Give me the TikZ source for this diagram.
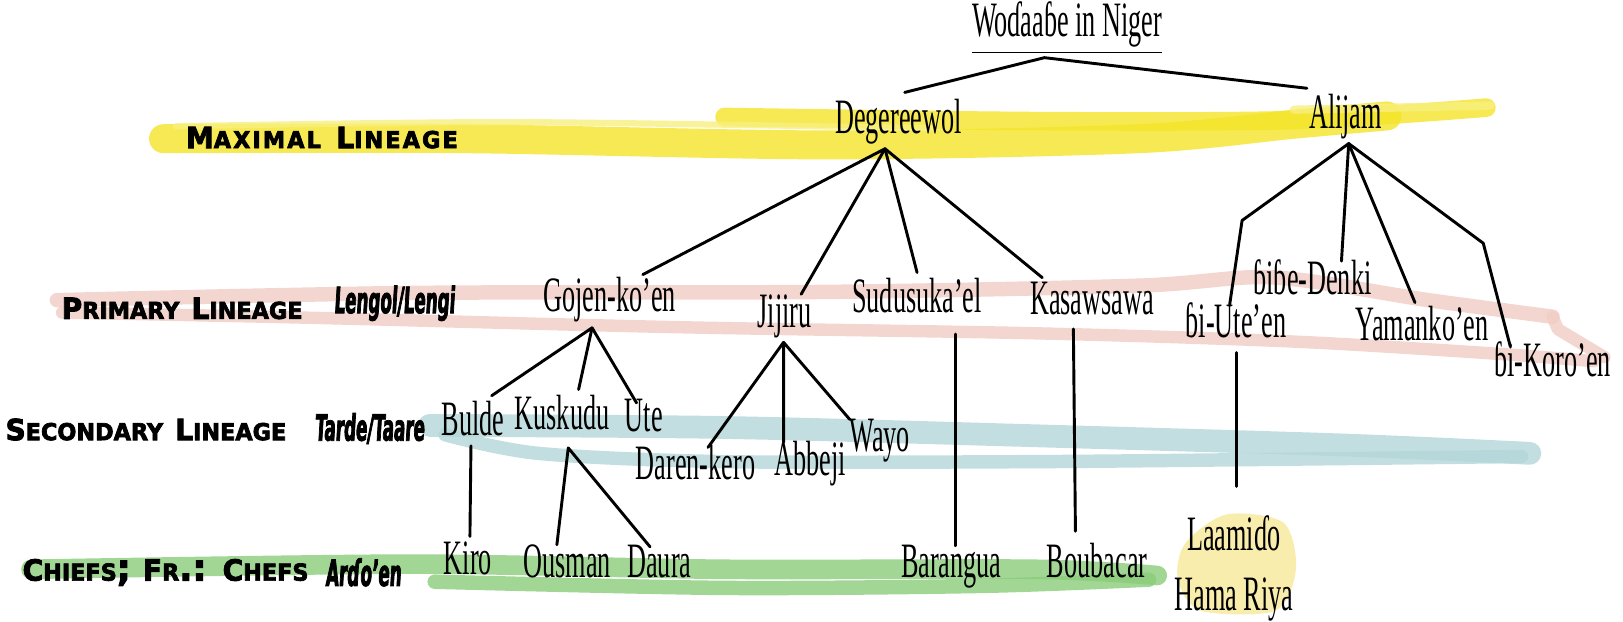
\documentclass[tikz,border=0pt]{standalone}
\usepackage{fontspec}
\newfontfamily\namefont[FakeStretch=0.53]{Liberation Serif}
\newfontfamily\rowfont[FakeStretch=0.96,FakeBold=3]{DejaVu Sans}
\newfontfamily\termfont[FakeStretch=0.46,FakeSlant=0.06,FakeBold=2]{DejaVu Sans}
\usetikzlibrary{calc}
\newcommand{\lincaps}[2]{{\fontsize{8}{9}\selectfont #1}{\fontsize{6.4}{7}\selectfont #2}}
\definecolor{maxyellow}{RGB}{244,228,40}
\definecolor{primpink}{RGB}{240,204,196}
\definecolor{secblue}{RGB}{180,214,216}
\definecolor{chiefgreen}{RGB}{138,204,122}
\definecolor{paleyellow}{RGB}{246,232,152}

\begin{document}
\begin{tikzpicture}[
        x=0.1mm, y=-0.1mm,
        clan/.style={font={\namefont\fontsize{13.6}{16.4}\selectfont},inner sep=1pt,text height=2.5mm,text depth=0.8mm},
        rowname/.style={font={\rowfont\bfseries},inner sep=0pt},
        term/.style={font={\termfont\bfseries\fontsize{10}{11}\selectfont},inner sep=0pt},
        branch/.style={line width=0.8pt,line cap=round,line join=round},
        brush/.style={line cap=round,line join=round,opacity=0.8},
        ]
        \useasboundingbox (0,0) rectangle (1568,600);

        % brush strokes behind the rows
        \draw[brush,maxyellow,line width=2.8mm] plot[smooth] coordinates {(158,134) (450,134) (800,140) (1100,134) (1250,120) (1340,112)};
        \draw[brush,maxyellow,line width=1.8mm] plot[smooth] coordinates {(700,113) (1000,117) (1250,116) (1436,104)};
        \draw[brush,maxyellow!60!white,line width=0.6mm] plot[smooth] coordinates {(170,122) (500,118) (900,124)};
        \draw[brush,maxyellow!60!white,line width=0.8mm] plot[smooth] coordinates {(1250,106) (1440,102)};

        \draw[brush,primpink,line width=1.4mm] plot[smooth] coordinates {(55,290) (400,283) (800,282) (1100,276) (1230,268) (1380,290) (1500,306)};
        \draw[brush,primpink,line width=1.2mm] (1500,306) -- (1505,318) -- (1550,345);
        \draw[brush,primpink,line width=1.2mm] plot[smooth] coordinates {(60,302) (300,307) (650,316) (1000,322) (1250,330) (1450,342) (1540,349)};

        \draw[brush,secblue,line width=2.2mm] plot[smooth] coordinates {(415,411) (700,413) (1000,421) (1300,430) (1478,438)};
        \draw[brush,secblue,line width=1.3mm] plot[smooth] coordinates {(430,420) (520,438) (700,446) (1000,446) (1300,443) (1470,441)};

        \draw[brush,chiefgreen,line width=1.9mm] plot[smooth] coordinates {(30,550) (400,545) (700,550) (1000,550) (1118,556)};
        \draw[brush,chiefgreen,line width=1.4mm] plot[smooth] coordinates {(420,562) (700,568) (950,566) (1110,560)};

        \fill[paleyellow,opacity=0.8] plot[smooth cycle] coordinates {(1145,525) (1185,497) (1240,505) (1252,550) (1232,590) (1160,590) (1138,560)};

        % row names
        \node[rowname](maximal) at (311,133){\addfontfeature{LetterSpace=9}\lincaps{M}{AXIMAL} \lincaps{L}{INEAGE}};
        \node[rowname](primary) at (176,298){\lincaps{P}{RIMARY} \lincaps{L}{INEAGE}};
        \node[rowname](secondary) at (141,415){\lincaps{S}{ECONDARY} \lincaps{L}{INEAGE}};
        \node[rowname](chiefs) at (160,553){\lincaps{C}{HIEFS}; \lincaps{F}{R}.: \lincaps{C}{HEFS}};
        \node[term](lengol) at (381,293){Lengol/Lengi};
        \node[term](tarde) at (357,414){Tarde/Taare};
        \node[term](ardoen) at (351,553){Arɗo’en};

        % the tree
        \node[clan,text depth=1.4mm](title) at (1031,30){\underline{Woɗaaɓe in Niger}};
        \node[clan](degereewol) at (868,120){Degereewol};
        \node[clan](alijam) at (1300,116){Alijam};

        \node[clan](gojen) at (589,292){Gojen-ko’en};
        \node[clan](jijiru) at (758,308){Jijiru};
        \node[clan](sudusuka) at (886,293){Sudusuka’el};
        \node[clan](kasawsawa) at (1055,295){Kasawsawa};
        \node[clan](biute) at (1194,318){ɓi-Ute’en};
        \node[clan](bibe) at (1268,276){ɓiɓe-Denki};
        \node[clan](yamanko) at (1374,320){Yamanko’en};
        \node[clan](bikoro) at (1500,355){ɓi-Koro’en};

        \node[clan](bulde) at (457,412){Bulde};
        \node[clan](kuskudu) at (543,406){Kuskudu};
        \node[clan](ute) at (622,408){Ute};
        \node[clan](darenkero) at (672,455){Daren-kero};
        \node[clan](abbeji) at (783,451){Abbeji};
        \node[clan](wayo) at (850,428){Wayo};

        \node[clan](kiro) at (452,547){Kiro};
        \node[clan](ousman) at (548,549){Ousman};
        \node[clan](daura) at (637,549){Daura};
        \node[clan](barangua) at (919,549){Barangua};
        \node[clan](boubacar) at (1060,549){Boubacar};
        \node[clan,text height=,text depth=,align=center](laamido) at (1192,549){Laamiɗo\\Hama Riya};

        \coordinate (utebend) at (1200,213);
        \coordinate (korobend) at (1433,235);

        \draw[branch] ($(degereewol.north)+(6,-10)$) -- ($(title.south)+(-22,2)$) -- ($(alijam.north west)+(2,-10)$);

        \draw[branch] ($(gojen.north)+(32,-6)$) -- ($(degereewol.south)+(-13,3)$) -- ($(jijiru.north)+(16,-3)$);
        \draw[branch] ($(degereewol.south)+(-13,3)$) -- ($(sudusuka.north)+(0,-9)$);
        \draw[branch] ($(degereewol.south)+(-13,3)$) -- ($(kasawsawa.north)+(-48,-6)$);

        \draw[branch] ($(biute.north)+(-6,-3)$) -- (utebend) -- ($(alijam.south)+(3,2)$) -- ($(bibe.north)+(28,-3)$);
        \draw[branch] ($(alijam.south)+(3,2)$) -- ($(yamanko.north)+(-7,-7)$);
        \draw[branch] ($(alijam.south)+(3,2)$) -- (korobend) -- ($(bikoro.north)+(-41,0)$);

        \draw[branch] ($(bulde.north)+(18,-9)$) -- ($(gojen.south)+(-17,4)$) -- ($(kuskudu.north)+(16,-9)$);
        \draw[branch] ($(gojen.south)+(-17,4)$) -- ($(ute.north)+(-7,2)$);
        \draw[branch] ($(darenkero.north)+(12,-2)$) -- ($(jijiru.south)+(-1,2)$) -- ($(abbeji.north)+(-26,-3)$);
        \draw[branch] ($(jijiru.south)+(-1,2)$) -- ($(wayo.north)+(-29,-2)$);

        \draw[branch] ($(bulde.south)+(-2,-2)$) -- ($(kiro.north)+(2,-8)$);
        \draw[branch] ($(ousman.north)+(-10,-2)$) -- ($(kuskudu.south)+(6,6)$) -- ($(daura.north)+(-9,0)$);
        \draw[branch] ($(sudusuka.south)+(37,9)$) -- ($(barangua.north)+(4,-1)$);
        \draw[branch] ($(kasawsawa.south)+(-18,2)$) -- ($(boubacar.north)+(-21,-15)$);
        \draw[branch] ($(biute.south)+(1,2)$) -- ($(laamido.north)+(3,-24)$);
\end{tikzpicture}
\end{document}
